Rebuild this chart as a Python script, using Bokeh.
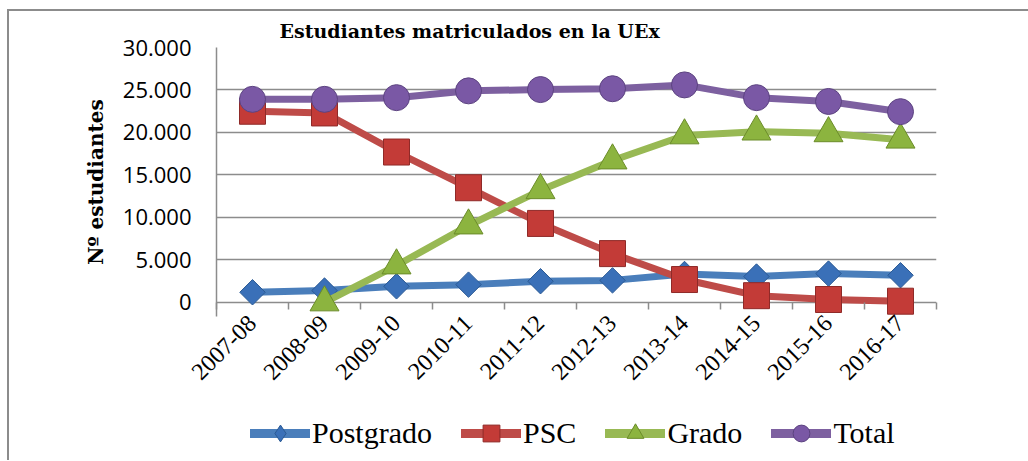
import math
from bokeh.plotting import figure
from bokeh.layouts import column
from bokeh.models import (FixedTicker, Range1d, Legend, LegendItem, InlineStyleSheet)
from bokeh.embed import file_html
from bokeh.resources import INLINE

years = ["2007-08", "2008-09", "2009-10", "2010-11", "2011-12",
         "2012-13", "2013-14", "2014-15", "2015-16", "2016-17"]
postgrado = [1200, 1400, 1900, 2100, 2500, 2600, 3350, 3050, 3400, 3200]
psc = [22500, 22300, 17700, 13500, 9300, 5750, 2700, 800, 350, 150]
grado = [float("nan"), 0, 4350, 9050, 13200, 16700, 19650, 20100, 19900, 19150]
total = [23900, 23900, 24100, 24900, 25050, 25150, 25600, 24100, 23650, 22450]
y_ticks = [0, 5000, 10000, 15000, 20000, 25000, 30000]
y_tick_labels = ["0", "5.000", "10.000", "15.000", "20.000", "25.000", "30.000"]

x = [i + 0.5 for i in range(len(years))]

p = figure(width=1028, height=410, output_backend="svg", toolbar_location=None,
           x_range=Range1d(0, len(years)), y_range=Range1d(-1650, 30000),
           min_border_left=216, min_border_right=92, min_border_top=47,
           min_border_bottom=94)
p.outline_line_color = None
p.background_fill_color = "white"
p.border_fill_color = "white"

# Title
p.title.text = "Estudiantes matriculados en la UEx"
p.title.text_font = "DejaVu Serif"
p.title.text_font_style = "bold"
p.title.text_font_size = "19px"
p.title.align = "left"
p.title.offset = 63
p.title.standoff = 12
p.title.text_color = "black"

# Y axis
yax = p.yaxis[0]
yax.ticker = FixedTicker(ticks=y_ticks, minor_ticks=[])
yax.major_label_overrides = {t: l for t, l in zip(y_ticks, y_tick_labels)}
yax.major_tick_line_color = None
yax.major_tick_out = 0
yax.major_tick_in = 0
yax.minor_tick_line_color = None
yax.axis_line_color = "#8c8c8c"
yax.axis_line_width = 1.5
yax.major_label_text_font = "Open Sans"
yax.major_label_text_font_size = "22px"
yax.major_label_text_color = "black"
yax.major_label_standoff = 25
yax.axis_label = "Nº estudiantes"
yax.axis_label_text_font = "DejaVu Serif"
yax.axis_label_text_font_style = "bold"
yax.axis_label_text_font_size = "20px"
yax.axis_label_text_color = "black"
yax.axis_label_standoff = 12

# X axis (boundary ticks drawn as minor ticks reaching up to the zero line)
xax = p.xaxis[0]
xax.ticker = FixedTicker(ticks=x, minor_ticks=list(range(len(years) + 1)))
xax.major_label_overrides = {xv: y for xv, y in zip(x, years)}
xax.major_tick_line_color = None
xax.major_tick_in = 0
xax.major_tick_out = 0
xax.minor_tick_line_color = "#8c8c8c"
xax.minor_tick_line_width = 1.5
xax.minor_tick_in = 14
xax.minor_tick_out = -7
xax.axis_line_color = None
xax.major_label_orientation = math.pi / 4
xax.major_label_text_font = "Liberation Serif"
xax.major_label_text_font_size = "24px"
xax.major_label_text_color = "black"
xax.major_label_standoff = 3

p.xgrid.grid_line_color = None
p.ygrid.ticker = FixedTicker(ticks=y_ticks)
p.ygrid.grid_line_color = "#8c8c8c"
p.ygrid.grid_line_width = 1.5

# name, values, line colour, marker, fill, edge, size, angle, legend marker
series = [
    ("Postgrado", postgrado, "#4a7ebb", "square", "#3a70b8", "#2b5a94", 18, math.pi / 4, "diamond"),
    ("PSC", psc, "#be4b48", "square", "#c33b37", "#8f2a28", 26, 0, "square"),
    ("Grado", grado, "#98b954", "triangle", "#8cb43f", "#6b8c2a", 29, 0, "triangle"),
    ("Total", total, "#7d60a0", "circle", "#7a58a5", "#5c4380", 26, 0, "circle"),
]

# Legend figure (separate strip below the chart)
pl = figure(width=1028, height=50, output_backend="svg", toolbar_location=None,
            x_range=Range1d(0, 1), y_range=Range1d(0, 1),
            min_border_left=0, min_border_right=0, min_border_top=0,
            min_border_bottom=0)
pl.axis.visible = False
pl.grid.visible = False
pl.outline_line_color = None
pl.border_fill_color = "white"

nan = float("nan")
items = []
for name, vals, lc, marker, fc, ec, size, ang, lmarker in series:
    p.line(x, vals, line_color=lc, line_width=7, line_cap="round",
           line_join="round")
    p.scatter(x, vals, marker=marker, size=size, angle=ang, fill_color=fc,
              line_color=ec, line_width=1)
    l1 = pl.line([nan, nan], [nan, nan], line_color=lc, line_width=9,
                 line_cap="round")
    l2 = pl.scatter([nan], [nan], marker=lmarker, size=size,
                    fill_color=fc, line_color=ec, line_width=1)
    items.append(LegendItem(label=name, renderers=[l1, l2]))

legend = Legend(items=items, orientation="horizontal", location=(34, 6))
legend.label_text_font = "Liberation Serif"
legend.label_text_font_size = "30px"
legend.label_text_color = "black"
legend.glyph_width = 60
legend.glyph_height = 42
legend.label_standoff = 2
legend.spacing = 29
legend.padding = 0
legend.margin = 0
legend.border_line_color = None
legend.background_fill_alpha = 0
pl.add_layout(legend, "center")

layout = column(p, pl, spacing=0)
css = (":host::after { content: ''; position: absolute; left: 7px; top: 9px; "
       "right: 0px; bottom: 0px; border-top: 2px solid #8c8c8c; "
       "border-left: 2px solid #8c8c8c; pointer-events: none; z-index: 100; }")
layout.stylesheets = [InlineStyleSheet(css=css)]

open("out.html", "w").write(file_html(layout, INLINE))
